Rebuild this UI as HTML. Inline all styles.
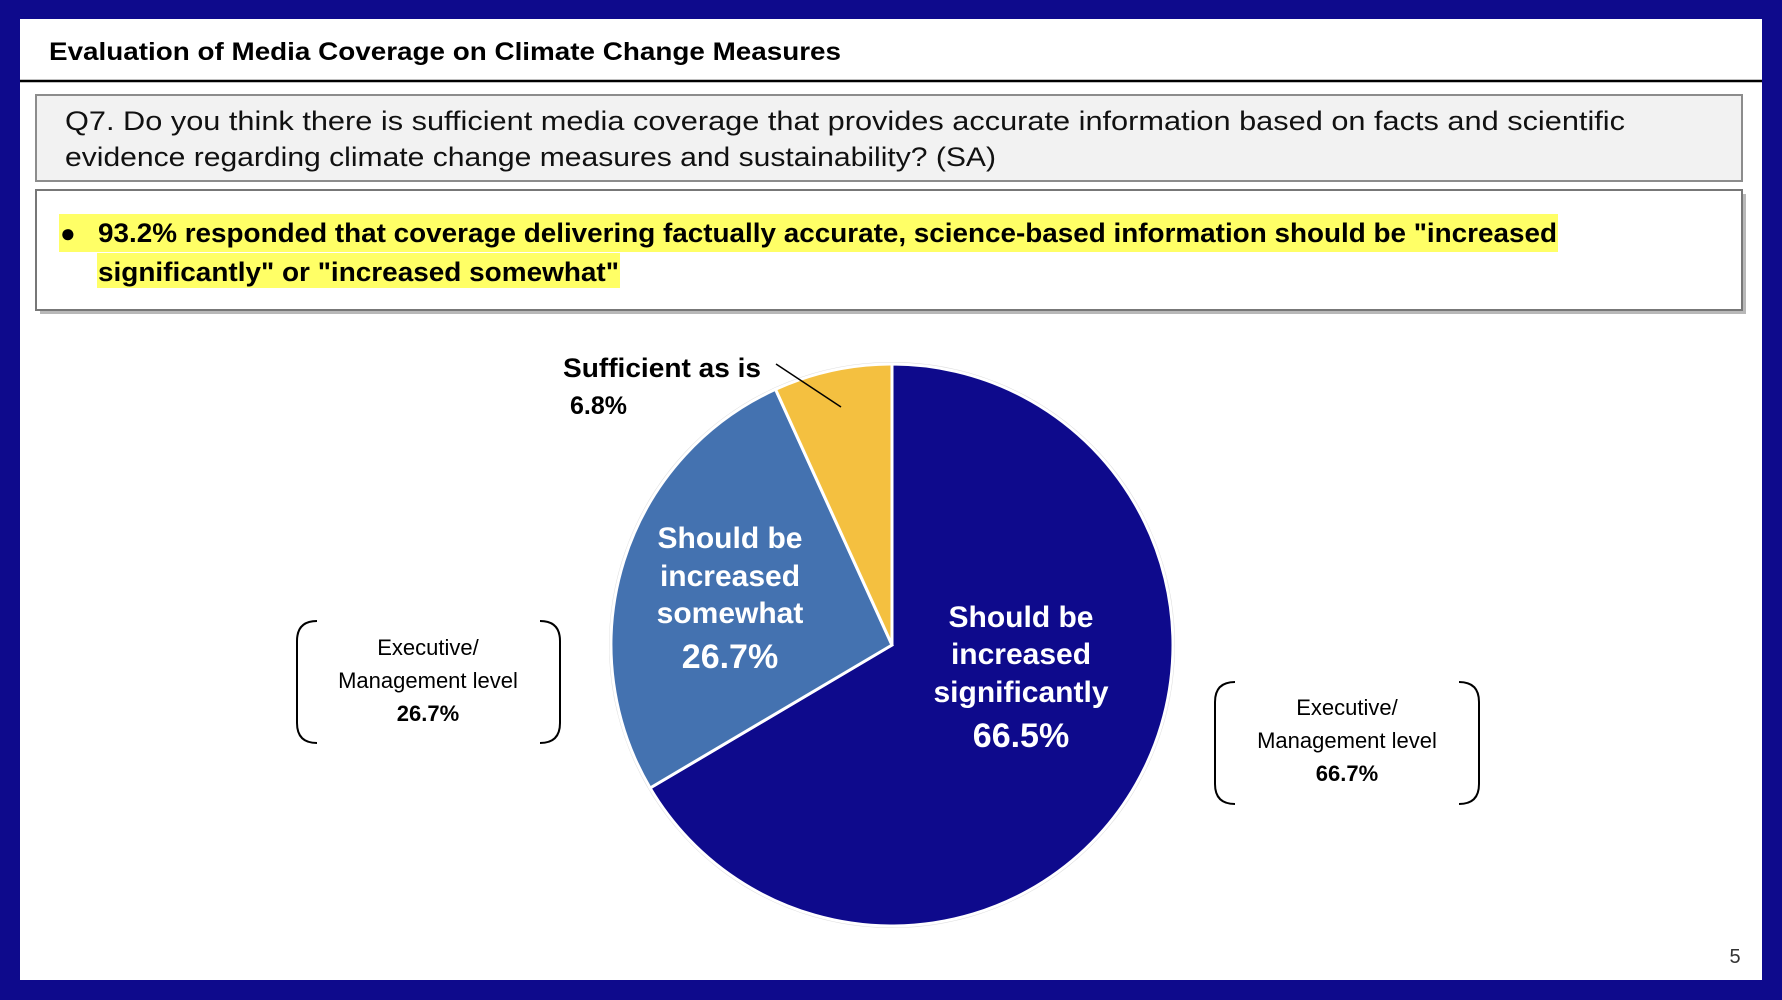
<!DOCTYPE html>
<html><head><meta charset="utf-8"><style>
html,body{margin:0;padding:0;background:#0e0a8c;}
svg{display:block;}
text{font-family:"Liberation Sans",sans-serif;}
</style></head><body>
<svg width="1782" height="1000" viewBox="0 0 1782 1000" xmlns="http://www.w3.org/2000/svg">
<rect x="0" y="0" width="1782" height="1000" fill="#0e0a8c"/>
<rect x="20" y="19" width="1742" height="961" fill="#ffffff"/>
<text x="49" y="60" font-size="25" font-weight="bold" fill="#000" textLength="792" lengthAdjust="spacingAndGlyphs">Evaluation of Media Coverage on Climate Change Measures</text>
<line x1="20" y1="81" x2="1762" y2="81" stroke="#000" stroke-width="2.5"/>
<rect x="36" y="95" width="1706" height="86" fill="#f2f2f2" stroke="#8c8c8c" stroke-width="2"/>
<text x="65" y="130" font-size="27" fill="#111" textLength="1560" lengthAdjust="spacingAndGlyphs">Q7. Do you think there is sufficient media coverage that provides accurate information based on facts and scientific</text>
<text x="65" y="166" font-size="27" fill="#111" textLength="931" lengthAdjust="spacingAndGlyphs">evidence regarding climate change measures and sustainability? (SA)</text>
<rect x="40" y="194" width="1706" height="120" fill="#888" opacity="0.6"/>
<rect x="36" y="190" width="1706" height="120" fill="#fff" stroke="#777" stroke-width="2"/>
<rect x="59" y="214" width="1499" height="38" fill="#ffff66"/>
<rect x="97" y="253" width="523" height="35" fill="#ffff66"/>
<text x="60" y="242" font-size="26" font-weight="bold" fill="#000">●</text>
<text x="98" y="242" font-size="27" font-weight="bold" fill="#000" textLength="1459" lengthAdjust="spacingAndGlyphs">93.2% responded that coverage delivering factually accurate, science-based information should be "increased</text>
<text x="98" y="281" font-size="27" font-weight="bold" fill="#000" textLength="521" lengthAdjust="spacingAndGlyphs">significantly" or "increased somewhat"</text>
<!-- pie -->
<circle cx="892" cy="645" r="282" fill="none" stroke="#ddd" stroke-width="2"/>
<path d="M892 645 L892 364 A281 281 0 1 1 650.1 788 Z" fill="#0e0a8c" stroke="#fff" stroke-width="3"/>
<path d="M892 645 L650.1 788 A281 281 0 0 1 775.5 389.3 Z" fill="#4472b0" stroke="#fff" stroke-width="3"/>
<path d="M892 645 L775.5 389.3 A281 281 0 0 1 892 364 Z" fill="#f4c040" stroke="#fff" stroke-width="3"/>
<line x1="776" y1="364" x2="841" y2="407" stroke="#000" stroke-width="1.5"/>
<text x="563" y="377" font-size="27" font-weight="bold" fill="#000" textLength="198" lengthAdjust="spacingAndGlyphs">Sufficient as is</text>
<text x="570" y="414" font-size="25" font-weight="bold" fill="#000">6.8%</text>
<g font-weight="bold" fill="#fff" text-anchor="middle">
<text x="730" y="548" font-size="30">Should be</text>
<text x="730" y="586" font-size="30">increased</text>
<text x="730" y="623" font-size="30">somewhat</text>
<text x="730" y="668" font-size="34">26.7%</text>
<text x="1021" y="627" font-size="30">Should be</text>
<text x="1021" y="664" font-size="30">increased</text>
<text x="1021" y="702" font-size="30">significantly</text>
<text x="1021" y="747" font-size="34">66.5%</text>
</g>
<!-- brackets -->
<g fill="none" stroke="#000" stroke-width="2">
<path d="M317 621 Q297 621 297 641 L297 723 Q297 743 317 743"/>
<path d="M540 621 Q560 621 560 641 L560 723 Q560 743 540 743"/>
<path d="M1235 682 Q1215 682 1215 702 L1215 784 Q1215 804 1235 804"/>
<path d="M1459 682 Q1479 682 1479 702 L1479 784 Q1479 804 1459 804"/>
</g>
<g text-anchor="middle" fill="#000" font-size="22">
<text x="428" y="655">Executive/</text>
<text x="428" y="688">Management level</text>
<text x="428" y="721" font-weight="bold">26.7%</text>
<text x="1347" y="715">Executive/</text>
<text x="1347" y="748">Management level</text>
<text x="1347" y="781" font-weight="bold">66.7%</text>
</g>
<text x="1735" y="963" font-size="20" fill="#333" text-anchor="middle">5</text>
</svg>
</body></html>
